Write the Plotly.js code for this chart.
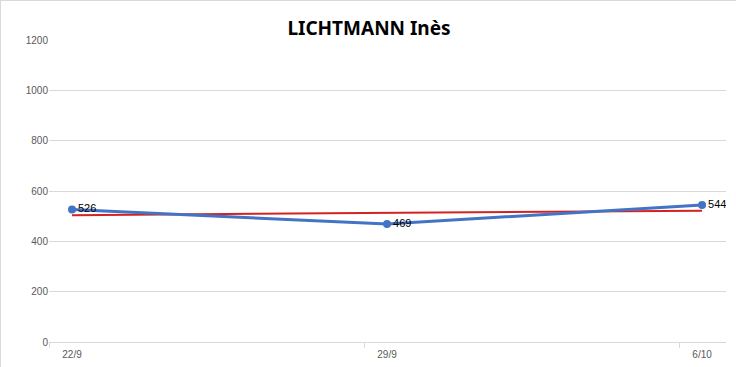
<!DOCTYPE html>
<html><head><meta charset="utf-8">
<script src="https://cdn.plot.ly/plotly-3.0.1.min.js"></script>
<style>html,body{margin:0;padding:0;background:#fff;}#chart{width:736px;height:367px;box-sizing:border-box;border:1px solid #d9d9d9;}</style>
</head><body><div id="chart"></div>
<script>
const categories = ['22/9', '29/9', '6/10'];
const scores = [526, 469, 544];
const trend = [504, 513, 522];
const yTicks = [0, 200, 400, 600, 800, 1000, 1200];

const xs = categories.map((c, i) => i);
const tickMarks = categories.map((c, i) => i - 0.073);

const data = [
  {x: xs, y: trend, type: 'scatter', mode: 'lines', line: {color: '#D42222', width: 2}, hoverinfo: 'skip'},
  {x: xs, y: scores, type: 'scatter', mode: 'lines+markers+text', text: scores.map(String),
   textposition: 'middle right', textfont: {family: 'Liberation Sans, Arial', size: 11, color: '#000'},
   line: {color: '#4472C4', width: 3}, marker: {color: '#4472C4', size: 8}},
  {x: [tickMarks[0]], y: [0], xaxis: 'x2', type: 'scatter', mode: 'markers', marker: {opacity: 0}, hoverinfo: 'skip'}
];

const layout = {
  width: 736, height: 367,
  margin: {l: 48, r: 11, t: 39, b: 26},
  paper_bgcolor: '#fff', plot_bgcolor: '#fff',
  showlegend: false,
  title: {text: '<b>LICHTMANN Inès</b>', x: 0.5, xanchor: 'center', y: 0.925, yanchor: 'middle',
          font: {family: 'Noto Sans, Liberation Sans', size: 19, color: '#000'}},
  xaxis: {range: [-0.073, 2.076], tickvals: xs, ticktext: categories, ticks: '', showgrid: false,
          zeroline: false, showline: true, linecolor: '#d9d9d9', linewidth: 1, ticklabelstandoff: 3,
          tickfont: {family: 'Liberation Sans, Arial', size: 10, color: '#595959'}},
  xaxis2: {range: [-0.073, 2.076], overlaying: 'x', tickvals: tickMarks, ticks: 'outside', ticklen: 5,
           tickcolor: '#d9d9d9', showticklabels: false, showgrid: false, zeroline: false, showline: false},
  yaxis: {range: [0, 1200], tickvals: yTicks, showgrid: true, gridcolor: '#d9d9d9', gridwidth: 1,
          zeroline: false, showline: false, ticks: '', ticklen: 0,
          tickfont: {family: 'Liberation Sans, Arial', size: 10, color: '#595959'}}
};

Plotly.newPlot('chart', data, layout, {displayModeBar: false, staticPlot: true});
</script></body></html>
